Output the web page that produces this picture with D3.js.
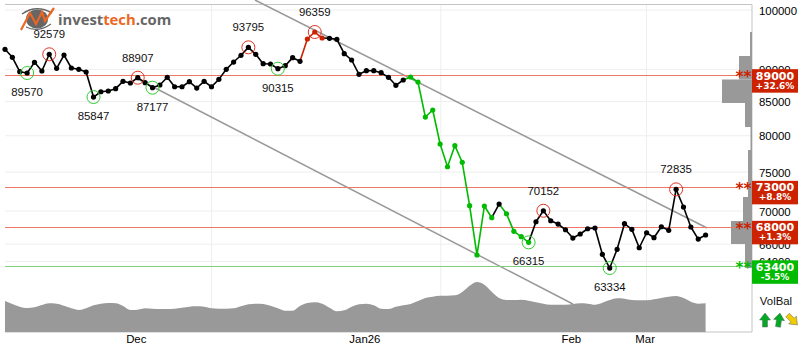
<!DOCTYPE html>
<html>
<head>
<meta charset="utf-8">
<script src="https://cdnjs.cloudflare.com/ajax/libs/d3/7.8.5/d3.min.js"></script>
<style>
html, body { margin: 0; padding: 0; background: #fff; }
svg { display: block; }
text { font-family: "Liberation Sans", Arial, sans-serif; }
</style>
</head>
<body>
<div id="chart"></div>
<script>
// closing prices, one per trading day
const closes = [
  93260, 91950, 89630, 89420, 91130, 89740, 92440, 90170, 92320, 90220,
  90010, 89580, 85690, 86500, 86610, 86970, 88110, 87850, 88680, 87900,
  87120, 87540, 88740, 87270, 87270, 88050, 87070, 88110, 87270, 88420,
  90010, 91180, 92280, 93590, 92440, 90910, 90860, 90110, 90590, 91890,
  91300, 94980, 96170, 95150, 95100, 94930, 92540, 91510, 89220, 89790,
  89790, 89470, 88740, 87490, 88320, 88790, 88000, 82700, 83740, 78840,
  75720, 78600, 76320, 70660, 64740, 70620, 69170, 70870, 69660, 67520,
  66880, 66210, 68680, 70030, 68800, 68400, 67710, 66720, 67200, 67830,
  67920, 64820, 63260, 65400, 68440, 67760, 65580, 67350, 66760, 68070,
  67640, 72740, 70500, 68040, 66600, 67080
];

// smoothed volume, relative units
const volumes = [
  31, 28, 25.3, 24, 24.7, 27, 28.7, 28.3, 26.3, 23.7,
  22, 23.7, 26.7, 28.3, 29, 28.7, 26, 22, 22.3, 23.7,
  23.3, 23, 23, 23.3, 24.3, 25.3, 25.7, 25.3, 23.7, 23.3,
  23.3, 23.7, 25.7, 27.7, 28.3, 28, 26.3, 23.7, 21.3, 21.3,
  26, 29, 29.7, 28.3, 24.3, 20.7, 21.7, 25.3, 27.7, 28.3,
  26.7, 23.3, 23, 25.3, 26.7, 28, 31, 34, 35.3, 36.3,
  36.3, 36.7, 40, 46.3, 50, 47.3, 40.3, 34, 32, 32,
  32.3, 31.3, 29.7, 28.3, 27.3, 27.3, 27.3, 28, 28.7, 28.3,
  27.3, 29.3, 32, 33.7, 33.3, 32, 31.7, 31.7, 32.7, 34,
  35.3, 36, 34, 30.3, 28.3, 28.7
];

// signal stretches: [first index, last index]
const redRuns = [[41, 43]];
const greenRuns = [[55, 66], [68, 71]];

// pivot tops and bottoms
const topIdx = [6, 18, 33, 42, 73, 91];
const topLabels = ["92579", "88907", "93795", "96359", "70152", "72835"];
const bottomIdx = [3, 12, 20, 37, 71, 82];
const bottomLabels = ["89570", "85847", "87177", "90315", "66315", "63334"];

// trend channel ends as [index, price]
const upperTrend = [[33.9, 101790], [95.2, 67920]];
const lowerTrend = [[18, 88480], [77, 59350]];

// support and resistance
const levelValues = [89000, 73000, 68000, 63400];
const levelPct = ["+32.6%", "+8.8%", "+1.3%", "-5.5%"];
const levelKind = ["res", "res", "res", "sup"];

// volume by price
const binEdges = [96170, 92160, 88400, 84790, 81250, 78000, 74880, 71760, 68770, 66020, 63270];
const binVolume = [2, 13, 30, 7, 1.5, 4, 4, 9, 21, 7];

const priceTicks = [100000, 90000, 85000, 80000, 75000, 70000, 66000, 64000];
const monthLabels = ["Dec", "Jan26", "Feb", "Mar"];
const monthPos = [17.8, 48.8, 76.8, 86.8];
const gridIdx = [28, 59.1, 87];

const width = 802, height = 352;
const plotLeft = 5, plotRight = 752, plotTop = 4.5, plotBottom = 332;

let svg = d3.select("#chart").append("svg")
    .attr("width", width).attr("height", height);

let x = d3.scaleLinear().domain([0, 95]).range([5, 705.6]);
let y = d3.scaleLog().domain([100000, 64000]).range([10, 261.5]);
let yv = d3.scaleLinear().domain([0, 50]).range([plotBottom, plotBottom - 50]);
let xh = d3.scaleLinear().domain([0, 30]).range([plotRight, plotRight - 30]);

// grid
svg.append("g").selectAll("line").data(priceTicks).enter().append("line")
    .attr("x1", plotLeft).attr("x2", plotRight)
    .attr("y1", d => y(d)).attr("y2", d => y(d))
    .attr("stroke", "#eeeeee");
svg.append("g").selectAll("line").data(gridIdx).enter().append("line")
    .attr("x1", d => x(d)).attr("x2", d => x(d))
    .attr("y1", plotTop).attr("y2", plotBottom)
    .attr("stroke", "#eeeeee");

// frame
svg.append("path")
    .attr("d", `M${plotLeft},${plotTop}H${plotRight}V${plotBottom}H${plotLeft}`)
    .attr("fill", "none").attr("stroke", "#c4c4c4").attr("stroke-width", 1);

// trend channel
[upperTrend, lowerTrend].forEach(t => {
    svg.append("line")
        .attr("x1", x(t[0][0])).attr("y1", y(t[0][1]))
        .attr("x2", x(t[1][0])).attr("y2", y(t[1][1]))
        .attr("stroke", "#999999").attr("stroke-width", 1.5);
});

// volume
let area = d3.area()
    .x((d, i) => x(i))
    .y0(plotBottom)
    .y1(d => yv(d))
    .curve(d3.curveMonotoneX);
svg.append("path").attr("d", area(volumes)).attr("fill", "#999999");

// volume by price
svg.append("g").selectAll("rect").data(binVolume).enter().append("rect")
    .attr("x", d => xh(d))
    .attr("width", d => plotRight - xh(d))
    .attr("y", (d, i) => y(binEdges[i]))
    .attr("height", (d, i) => y(binEdges[i + 1]) - y(binEdges[i]))
    .attr("fill", "#999999");

// level lines
let levelColor = k => k == "res" ? "#ee7766" : "#7fd07f";
let tagColor = k => k == "res" ? "#cc2200" : "#00bb00";
svg.append("g").selectAll("line").data(levelValues).enter().append("line")
    .attr("x1", plotLeft).attr("x2", 737)
    .attr("y1", d => y(d)).attr("y2", d => y(d))
    .attr("shape-rendering", "crispEdges")
    .attr("stroke", (d, i) => levelColor(levelKind[i]));

// price axis
svg.append("g").selectAll("text").data(priceTicks).enter().append("text")
    .attr("x", 759).attr("y", d => y(d) + 4.5)
    .attr("font-size", "11.4px").attr("fill", "#000")
    .text(d => d);

// price line
function colorOf(i) {
    if (redRuns.some(r => i >= r[0] && i <= r[1])) return "#cc2200";
    if (greenRuns.some(r => i >= r[0] && i <= r[1])) return "#00bb00";
    return "#000000";
}
svg.append("g").selectAll("line").data(closes.slice(1)).enter().append("line")
    .attr("x1", (d, i) => x(i)).attr("y1", (d, i) => y(closes[i]))
    .attr("x2", (d, i) => x(i + 1)).attr("y2", d => y(d))
    .attr("stroke", (d, i) => colorOf(i + 1)).attr("stroke-width", 1.6);
svg.append("g").selectAll("circle").data(closes).enter().append("circle")
    .attr("cx", (d, i) => x(i)).attr("cy", d => y(d)).attr("r", 2.6)
    .attr("fill", (d, i) => colorOf(i));

// pivots
function pivots(idx, labels, color, dy) {
    svg.append("g").selectAll("circle").data(idx).enter().append("circle")
        .attr("cx", d => x(d)).attr("cy", d => y(closes[d])).attr("r", 6.5)
        .attr("fill", "none").attr("stroke", color).attr("stroke-width", 1);
    svg.append("g").selectAll("text").data(idx).enter().append("text")
        .attr("x", d => x(d)).attr("y", d => y(closes[d]) + dy)
        .attr("text-anchor", "middle")
        .attr("font-size", "11.4px").attr("fill", "#111")
        .text((d, i) => labels[i]);
}
pivots(topIdx, topLabels, "#dd3322", -16);
pivots(bottomIdx, bottomLabels, "#33cc33", 23);

// level stars and tags
let tags = svg.append("g").selectAll("g").data(levelValues).enter().append("g")
    .attr("transform", d => `translate(0,${y(d)})`);
tags.append("text")
    .attr("x", 735.5).attr("y", 6.5)
    .attr("font-size", "15.5px").attr("font-weight", "bold")
    .style("font-family", "'DejaVu Sans'")
    .attr("fill", (d, i) => tagColor(levelKind[i]))
    .text("**");
tags.append("rect")
    .attr("x", plotRight).attr("y", -6.5).attr("width", 46).attr("height", 23.5)
    .attr("fill", (d, i) => tagColor(levelKind[i]));
tags.append("text")
    .attr("x", 775).attr("y", 4)
    .attr("text-anchor", "middle")
    .attr("font-size", "11px").attr("font-weight", "bold")
    .style("font-family", "'DejaVu Sans'").attr("fill", "#fff")
    .text(d => d);
tags.append("text")
    .attr("x", 775).attr("y", 13)
    .attr("text-anchor", "middle")
    .attr("font-size", "9px").attr("font-weight", "bold")
    .style("font-family", "'DejaVu Sans'").attr("fill", "#fff")
    .text((d, i) => levelPct[i]);

// months
svg.append("g").selectAll("text").data(monthLabels).enter().append("text")
    .attr("x", (d, i) => x(monthPos[i])).attr("y", 343)
    .attr("text-anchor", "middle")
    .attr("font-size", "11.4px").attr("fill", "#000")
    .text(d => d);

// VolBal arrows
svg.append("text").attr("x", 776).attr("y", 305)
    .attr("text-anchor", "middle").attr("font-size", "11.4px").attr("fill", "#111")
    .text("VolBal");
let arrow = "M0,-7L5.5,0H2.5V7H-2.5V0H-5.5Z";
[[765, 0, "#00aa22"], [779, 8, "#00aa22"], [792.5, 135, "#eecc00"]].forEach(a => {
    svg.append("path").attr("d", arrow)
        .attr("transform", `translate(${a[0]},320) rotate(${a[1]})`)
        .attr("fill", a[2]).attr("stroke", "#666").attr("stroke-width", 0.5);
});

// logo
let logo = svg.append("g");
logo.append("ellipse").attr("cx", 37).attr("cy", 19).attr("rx", 11).attr("ry", 9.5).attr("fill", "#666666");
logo.append("path").attr("d", "M22,14Q36,4 52,13").attr("fill", "none").attr("stroke", "#666666").attr("stroke-width", 1.5);
logo.append("path").attr("d", "M26,27Q38,33 51,24").attr("fill", "none").attr("stroke", "#666666").attr("stroke-width", 1.2);
logo.append("path").attr("d", "M21,30L30,13L36,24L42,12L45,21L54,8")
    .attr("fill", "none").attr("stroke", "#ee6622").attr("stroke-width", 2.2);
let lt = logo.append("text").attr("x", 58).attr("y", 25)
    .attr("font-size", "14.8px").attr("font-weight", "bold")
    .style("font-family", "'Open Sans'").attr("fill", "#666666");
lt.append("tspan").text("invest");
lt.append("tspan").attr("fill", "#ee6622").text("tech");
lt.append("tspan").text(".com");
</script>
</body>
</html>
